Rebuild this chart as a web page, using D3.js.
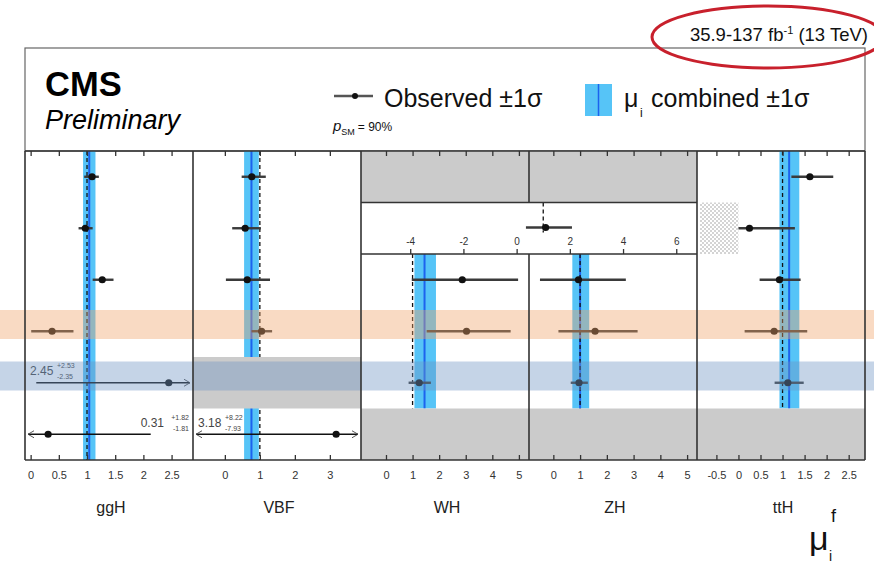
<!DOCTYPE html>
<html><head><meta charset="utf-8">
<script src="https://cdn.jsdelivr.net/npm/d3@7"></script>
<style>
html,body{margin:0;padding:0;background:#fff;}
svg{display:block;font-family:"Liberation Sans",Arial,Helvetica,sans-serif;}
</style></head>
<body><svg id="c" width="874" height="565"></svg>
<script>
// ---------------- data ----------------
const productions = ["ggH", "VBF", "WH", "ZH", "ttH"];
const decays = ["γγ", "ZZ", "WW", "ττ", "bb", "μμ"];
const axisDomains = [[-0.1, 2.88], [-0.91, 3.89], [-0.94, 5.38], [-0.91, 5.37], [-0.94, 2.87]];
const tickValues = [[0, 0.5, 1, 1.5, 2, 2.5], [0, 1, 2, 3], [0, 1, 2, 3, 4, 5], [0, 1, 2, 3, 4, 5], [-0.5, 0, 0.5, 1, 1.5, 2, 2.5]];

const ggH_mu = [1.09, 0.97, 1.27, 0.38, 2.45, 0.31];
const ggH_dn = [0.14, 0.12, 0.17, 0.37, 2.35, 1.81];
const ggH_up = [0.12, 0.13, 0.20, 0.38, 2.53, 1.82];
const VBF_mu = [0.77, 0.58, 0.64, 1.05, null, 3.18];
const VBF_dn = [0.29, 0.37, 0.61, 0.29, null, 7.93];
const VBF_up = [0.40, 0.45, 0.65, 0.30, null, 8.22];
const WH_mu = [null, null, 2.87, 3.03, 1.25, null];
const WH_dn = [null, null, 1.90, 1.50, 0.40, null];
const WH_up = [null, null, 2.10, 1.66, 0.44, null];
const ZH_mu = [null, null, 0.94, 1.56, 0.96, null];
const ZH_dn = [null, null, 1.44, 1.37, 0.31, null];
const ZH_up = [null, null, 1.77, 1.59, 0.33, null];
const ttH_mu = [1.62, 0.25, 0.93, 0.81, 1.12, null];
const ttH_dn = [0.42, 0.25, 0.45, 0.67, 0.30, null];
const ttH_up = [0.53, 1.03, 0.48, 0.75, 0.36, null];

// VH (WH+ZH) combined for H->ZZ
const VH_ZZ_mu = 1.09, VH_ZZ_dn = 0.74, VH_ZZ_up = 0.99;
const VH_ZZ_domain = [-5.85, 6.78];
const VH_ZZ_ticks = [-4, -2, 0, 2, 4, 6];

// mu_i combined +-1 sigma per production
const combinedMu = [1.04, 0.76, 1.45, 1.00, 1.15];
const combinedLo = [0.93, 0.55, 1.07, 0.71, 0.93];
const combinedHi = [1.15, 0.97, 1.88, 1.34, 1.38];
const combinedRows = [[0, 5], [0, 5], [2, 4], [2, 4], [0, 4]];

// not measured cells
const grayCells = [["WH", 0], ["ZH", 0], ["WH", 5], ["ZH", 5], ["ttH", 5], ["VBF", 4]];
const hatchCells = [["ttH", 1]];
const highlightRows = [{row: 3, color: "#f0a26a"}, {row: 4, color: "#6f93c4"}];

const obs = {
  ggH: [ggH_mu, ggH_dn, ggH_up], VBF: [VBF_mu, VBF_dn, VBF_up],
  WH: [WH_mu, WH_dn, WH_up], ZH: [ZH_mu, ZH_dn, ZH_up], ttH: [ttH_mu, ttH_dn, ttH_up]
};

// ---------------- layout ----------------
const svg = d3.select("#c");
const L = 25, R = 865, T = 151, B = 460;
const band = d3.scaleBand().domain(productions).range([L, R]);
const rowScale = d3.scaleBand().domain(d3.range(decays.length)).range([T, B]);
const rowH = rowScale.bandwidth();
const xs = {};
productions.forEach((p, i) => {
  xs[p] = d3.scaleLinear().domain(axisDomains[i]).range([band(p), band(p) + band.bandwidth()]);
});
const vhX = d3.scaleLinear().domain(VH_ZZ_domain).range([band("WH"), band("ZH") + band.bandwidth()]);
const fmt = d => String(d);

const defs = svg.append("defs");
const pat = defs.append("pattern").attr("id", "hatch").attr("width", 4).attr("height", 4).attr("patternUnits", "userSpaceOnUse");
pat.append("rect").attr("width", 4).attr("height", 4).attr("fill", "#fff");
pat.append("rect").attr("width", 2).attr("height", 2).attr("fill", "#d4d4d4");
pat.append("rect").attr("x", 2).attr("y", 2).attr("width", 2).attr("height", 2).attr("fill", "#d4d4d4");

// legend box
svg.append("rect").attr("x", L).attr("y", 48).attr("width", R - L).attr("height", T - 48)
  .attr("fill", "#fff").attr("stroke", "#666").attr("stroke-width", 1.2);

// combined bands + SM lines
productions.forEach((p, i) => {
  const x = xs[p];
  const y0 = rowScale(combinedRows[i][0]), y1 = rowScale(combinedRows[i][1]) + rowH;
  svg.append("rect").attr("x", x(combinedLo[i])).attr("y", y0)
    .attr("width", x(combinedHi[i]) - x(combinedLo[i])).attr("height", y1 - y0).attr("fill", "#56c4f7");
  svg.append("line").attr("x1", x(combinedMu[i])).attr("x2", x(combinedMu[i])).attr("y1", y0).attr("y2", y1)
    .attr("stroke", "#1c63ee").attr("stroke-width", 2);
  svg.append("line").attr("x1", x(1)).attr("x2", x(1)).attr("y1", y0).attr("y2", y1)
    .attr("stroke", "#111").attr("stroke-width", 1.3).attr("stroke-dasharray", "4,3");
});

// gray cells
grayCells.forEach(([p, r]) => {
  svg.append("rect").attr("x", band(p)).attr("y", rowScale(r)).attr("width", band.bandwidth()).attr("height", rowH).attr("fill", "#cbcbcb");
});
hatchCells.forEach(([p, r]) => {
  const x = xs[p];
  svg.append("rect").attr("x", x.range()[0] + 3).attr("y", rowScale(r)).attr("width", x(0) - x.range()[0] - 3).attr("height", rowH).attr("fill", "url(#hatch)");
});

// VH ZZ merged cell
const vy0 = rowScale(1), vy1 = rowScale(1) + rowH;
svg.append("rect").attr("x", vhX.range()[0]).attr("y", vy0).attr("width", vhX.range()[1] - vhX.range()[0]).attr("height", rowH).attr("fill", "#fff");
svg.append("line").attr("x1", vhX(1)).attr("x2", vhX(1)).attr("y1", vy0).attr("y2", vy0 + 30)
  .attr("stroke", "#111").attr("stroke-width", 1.3).attr("stroke-dasharray", "4,3");

function errbar(x, y, mu, dn, up) {
  const [d0, d1] = x.domain();
  const lo = mu - dn, hi = mu + up;
  const xa = x(Math.max(lo, d0)) + (lo < d0 ? 3 : 0), xb = x(Math.min(hi, d1)) - (hi > d1 ? 3 : 0);
  const off = lo < d0 || hi > d1;
  svg.append("line").attr("x1", xa).attr("x2", xb).attr("y1", y).attr("y2", y)
    .attr("stroke", off ? "#111" : "#3a3a3a").attr("stroke-width", off ? 1.4 : 2.4);
  if (lo < d0) svg.append("path").attr("d", `M${xa + 6},${y - 3.5}L${xa},${y}L${xa + 6},${y + 3.5}`).attr("fill", "none").attr("stroke", "#444").attr("stroke-width", 0.9);
  if (hi > d1) svg.append("path").attr("d", `M${xb - 6},${y - 3.5}L${xb},${y}L${xb - 6},${y + 3.5}`).attr("fill", "none").attr("stroke", "#444").attr("stroke-width", 0.9);
  svg.append("circle").attr("cx", x(mu)).attr("cy", y).attr("r", 3.6).attr("fill", "#111");
  if (off) {
    const right = x(mu) < (x.range()[0] + x.range()[1]) / 2;
    const g = svg.append("g").attr("fill", "#444");
    const ty = y - 7.5;
    const t = g.append("text").attr("y", ty).attr("font-size", 12).text(mu.toFixed(2));
    const s1 = g.append("text").attr("y", ty - 7).attr("font-size", 7).text("+" + up.toFixed(2));
    const s2 = g.append("text").attr("y", ty + 4).attr("font-size", 7).text("-" + dn.toFixed(2));
    if (right) {
      const xr = x.range()[1] - 4;
      s1.attr("x", xr).attr("text-anchor", "end"); s2.attr("x", xr).attr("text-anchor", "end");
      t.attr("x", xr - 25).attr("text-anchor", "end");
    } else {
      const xl = x.range()[0] + 5;
      t.attr("x", xl);
      s1.attr("x", xl + 27); s2.attr("x", xl + 27);
    }
  }
}

productions.forEach(p => {
  const [mu, dn, up] = obs[p];
  mu.forEach((m, r) => {
    if (m === null) return;
    errbar(xs[p], rowScale(r) + rowH / 2, m, dn[r], up[r]);
  });
});
errbar(vhX, vy0 + 25, VH_ZZ_mu, VH_ZZ_dn, VH_ZZ_up);

// highlight rows (annotation bands)
highlightRows.forEach(h => {
  svg.append("rect").attr("x", 0).attr("y", rowScale(h.row) + 4.5).attr("width", 874).attr("height", 29)
    .attr("fill", h.color).attr("opacity", 0.4);
});

// frames
const fr = svg.append("g").attr("stroke", "#333").attr("stroke-width", 1.6).attr("fill", "none");
fr.append("line").attr("x1", L).attr("x2", R).attr("y1", T).attr("y2", T);
fr.append("line").attr("x1", L).attr("x2", R).attr("y1", B).attr("y2", B);
fr.append("line").attr("x1", L).attr("x2", L).attr("y1", T).attr("y2", B);
fr.append("line").attr("x1", R).attr("x2", R).attr("y1", T).attr("y2", B);
productions.slice(1).forEach(p => {
  const x = band(p);
  if (p === "ZH") {
    fr.append("line").attr("x1", x).attr("x2", x).attr("y1", T).attr("y2", vy0);
    fr.append("line").attr("x1", x).attr("x2", x).attr("y1", vy1).attr("y2", B);
  } else {
    fr.append("line").attr("x1", x).attr("x2", x).attr("y1", T).attr("y2", B);
  }
});
fr.append("line").attr("x1", vhX.range()[0]).attr("x2", vhX.range()[1]).attr("y1", vy0).attr("y2", vy0);
fr.append("line").attr("x1", vhX.range()[0]).attr("x2", vhX.range()[1]).attr("y1", vy1).attr("y2", vy1);

// axes
productions.forEach((p, i) => {
  const x = xs[p];
  const bot = svg.append("g").attr("transform", `translate(0,${B})`)
    .call(d3.axisBottom(x).tickValues(tickValues[i]).tickSizeInner(-5).tickSizeOuter(0).tickPadding(11).tickFormat(fmt));
  bot.select(".domain").remove();
  bot.selectAll("line").attr("stroke", "#333").attr("stroke-width", 1.3);
  bot.selectAll("text").attr("font-size", 11).attr("fill", "#333").attr("font-family", "Liberation Sans, Arial, sans-serif");
  const top = svg.append("g").attr("transform", `translate(0,${T})`)
    .call(d3.axisTop(x).tickValues(tickValues[i]).tickSizeInner(-5).tickSizeOuter(0).tickFormat(""));
  top.select(".domain").remove();
  top.selectAll("line").attr("stroke", "#333").attr("stroke-width", 1.3);
  svg.append("text").attr("x", band(p) + band.bandwidth() / 2 + 2).attr("y", 513).attr("text-anchor", "middle")
    .attr("font-size", 16).attr("fill", "#222").text(p);
});
const vax = svg.append("g").attr("transform", `translate(0,${vy1})`)
  .call(d3.axisBottom(vhX).tickValues(VH_ZZ_ticks).tickSizeInner(-5).tickSizeOuter(0).tickPadding(-16).tickFormat(fmt));
vax.select(".domain").remove();
vax.selectAll("line").attr("stroke", "#333").attr("stroke-width", 1.3);
vax.selectAll("text").attr("font-size", 10).attr("fill", "#333").attr("font-family", "Liberation Sans, Arial, sans-serif");

// x title mu_i^f
svg.append("text").attr("x", 809).attr("y", 550).attr("font-size", 34).attr("fill", "#111").text("μ");
svg.append("text").attr("x", 831).attr("y", 522).attr("font-size", 18).attr("fill", "#111").text("f");
svg.append("text").attr("x", 829).attr("y", 561).attr("font-size", 14).attr("fill", "#111").text("i");

// header texts
svg.append("text").attr("x", 45).attr("y", 96).attr("font-size", 34.5).attr("font-weight", "bold").attr("fill", "#000").text("CMS");
svg.append("text").attr("x", 45).attr("y", 129).attr("font-size", 27).attr("font-style", "italic").attr("fill", "#000").text("Preliminary");

svg.append("line").attr("x1", 334).attr("x2", 373).attr("y1", 96).attr("y2", 96).attr("stroke", "#555").attr("stroke-width", 2.4);
svg.append("circle").attr("cx", 355).attr("cy", 96).attr("r", 3).attr("fill", "#111");
svg.append("text").attr("x", 384).attr("y", 107).attr("font-size", 25).attr("fill", "#111").text("Observed ±1σ");
const ps = svg.append("text").attr("x", 333).attr("y", 131).attr("fill", "#111");
ps.append("tspan").attr("font-size", 15).attr("font-style", "italic").text("p");
ps.append("tspan").attr("font-size", 9).attr("dy", 4).text("SM");
ps.append("tspan").attr("font-size", 12).attr("dy", -4).attr("dx", 3).text("= 90%");

svg.append("rect").attr("x", 585).attr("y", 84).attr("width", 27).attr("height", 32).attr("fill", "#56c4f7");
svg.append("line").attr("x1", 598.5).attr("x2", 598.5).attr("y1", 84).attr("y2", 116).attr("stroke", "#1c63ee").attr("stroke-width", 1.5);
svg.append("text").attr("x", 624).attr("y", 107).attr("font-size", 25).attr("fill", "#111").text("μ");
svg.append("text").attr("x", 640).attr("y", 117).attr("font-size", 12).attr("fill", "#111").text("i");
svg.append("text").attr("x", 651).attr("y", 107).attr("font-size", 25).attr("fill", "#111").text("combined ±1σ");

const lumi = svg.append("text").attr("x", 868).attr("y", 41).attr("text-anchor", "end").attr("font-size", 18.5).attr("fill", "#111");
lumi.append("tspan").text("35.9-137 fb");
lumi.append("tspan").attr("font-size", 11).attr("dy", -7).text("-1");
lumi.append("tspan").attr("dy", 7).text(" (13 TeV)");

svg.append("ellipse").attr("cx", 768).attr("cy", 37).attr("rx", 116).attr("ry", 31)
  .attr("fill", "none").attr("stroke", "#c8202c").attr("stroke-width", 3);
</script></body></html>
